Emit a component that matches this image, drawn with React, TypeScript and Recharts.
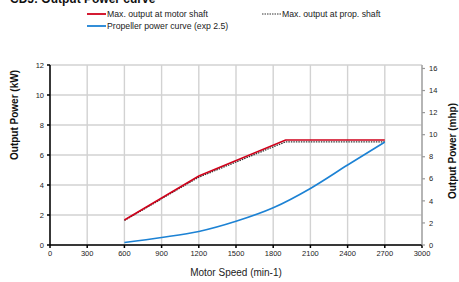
import { LineChart, Line, XAxis, YAxis, CartesianGrid, Legend } from "recharts";

const speedTicks = [0, 300, 600, 900, 1200, 1500, 1800, 2100, 2400, 2700, 3000];
const kwTicks = [0, 2, 4, 6, 8, 10, 12];
const mhpTicks = [0, 2, 4, 6, 8, 10, 12, 14, 16];

const motorRpm = [600, 1200, 1900, 2700];
const motorKw = [1.67, 4.6, 7.0, 7.0];
const propShaftKw = [1.64, 4.52, 6.88, 6.88];

const propRpm = [600, 900, 1200, 1500, 1800, 2100, 2400, 2700];
const propKw = [0.17, 0.5, 0.9, 1.58, 2.48, 3.77, 5.33, 6.86];

const motorData = motorRpm.map((rpm, i) => ({ rpm, kw: motorKw[i] }));
const shaftData = motorRpm.map((rpm, i) => ({ rpm, kw: propShaftKw[i] }));
const propData = propRpm.map((rpm, i) => ({ rpm, kw: propKw[i] }));

const FONT = "'Liberation Sans', Arial, Helvetica, sans-serif";
const RED = "#d0021b";
const BLUE = "#1c82d4";

const legendItems = [
  { label: "Max. output at motor shaft", color: RED, dash: false, left: 87, top: 9 },
  { label: "Max. output at prop. shaft", color: "#333", dash: true, left: 262, top: 9 },
  { label: "Propeller power curve (exp 2.5)", color: BLUE, dash: false, left: 87, top: 21 },
];

function ChartLegend() {
  return (
    <div style={{ position: "relative", width: 459, height: 30, fontFamily: FONT, fontSize: 8.7, color: "#222" }}>
      {legendItems.map((it) => (
        <div key={it.label} style={{ position: "absolute", left: it.left, top: it.top, display: "flex", alignItems: "center", whiteSpace: "nowrap" }}>
          <svg width={19} height={8} style={{ marginRight: 1 }}>
            <line x1={0} y1={4} x2={19} y2={4} stroke={it.color} strokeWidth={it.dash ? 1 : 1.8} strokeDasharray={it.dash ? "1.5 1" : undefined} />
          </svg>
          <span>{it.label}</span>
        </div>
      ))}
    </div>
  );
}

export default function App() {
  return (
    <div style={{ position: "absolute", left: 0, top: 0, width: 459, height: 282, background: "#fff" }}>
      <LineChart width={459} height={282} margin={{ top: 35, right: 0, bottom: 0, left: 0 }}>
        <text x={10} y={3} fontFamily={FONT} fontSize={12} fontWeight="bold" fill="#111">
          CD5: Output Power curve
        </text>
        <CartesianGrid yAxisId="kw" stroke="#d2d2d2" strokeWidth={1.4} verticalValues={speedTicks} horizontalValues={kwTicks} />
        <XAxis
          dataKey="rpm"
          type="number"
          domain={[0, 3000]}
          ticks={speedTicks}
          height={37}
          tickSize={3}
          tickMargin={3}
          stroke="#000"
          strokeWidth={1.5}
          tick={{ fontSize: 7.5, fill: "#222", fontFamily: FONT }}
          allowDuplicatedCategory={false}
          label={{ value: "Motor Speed (min-1)", position: "insideBottom", offset: 6, fontSize: 10, fill: "#222", fontFamily: FONT }}
        />
        <YAxis
          yAxisId="kw"
          type="number"
          domain={[0, 12]}
          ticks={kwTicks}
          width={50}
          tickSize={3}
          tickMargin={3}
          stroke="#000"
          strokeWidth={1.5}
          tick={{ fontSize: 7.5, fill: "#222", fontFamily: FONT }}
          label={{
            content: () => (
              <text x={14} y={115} transform="rotate(-90 14 115)" textAnchor="middle" dominantBaseline="central" fontFamily={FONT} fontSize={10} fontWeight="bold" fill="#111">
                Output Power (kW)
              </text>
            ),
          }}
        />
        <YAxis
          yAxisId="mhp"
          orientation="right"
          type="number"
          domain={[0, 12 / 0.7355]}
          allowDataOverflow
          ticks={mhpTicks}
          width={37}
          tickSize={3}
          tickMargin={4}
          stroke="#999"
          strokeWidth={1.2}
          tick={{ fontSize: 7.5, fill: "#222", fontFamily: FONT }}
          label={{
            content: () => (
              <text x={452} y={151} transform="rotate(-90 452 151)" textAnchor="middle" dominantBaseline="central" fontFamily={FONT} fontSize={10} fontWeight="bold" fill="#111">
                Output Power (mhp)
              </text>
            ),
          }}
        />
        <Legend verticalAlign="top" wrapperStyle={{ position: "absolute", top: 0, left: 0, width: 459 }} content={() => <ChartLegend />} />
        <Line yAxisId="kw" data={shaftData} dataKey="kw" stroke="#333" strokeWidth={1.3} strokeDasharray="1.5 1" dot={false} type="linear" isAnimationActive={false} />
        <Line yAxisId="kw" data={motorData} dataKey="kw" stroke={RED} strokeWidth={1.6} dot={false} type="linear" isAnimationActive={false} />
        <Line yAxisId="kw" data={propData} dataKey="kw" stroke={BLUE} strokeWidth={1.6} dot={false} type="monotone" isAnimationActive={false} />
      </LineChart>
    </div>
  );
}
